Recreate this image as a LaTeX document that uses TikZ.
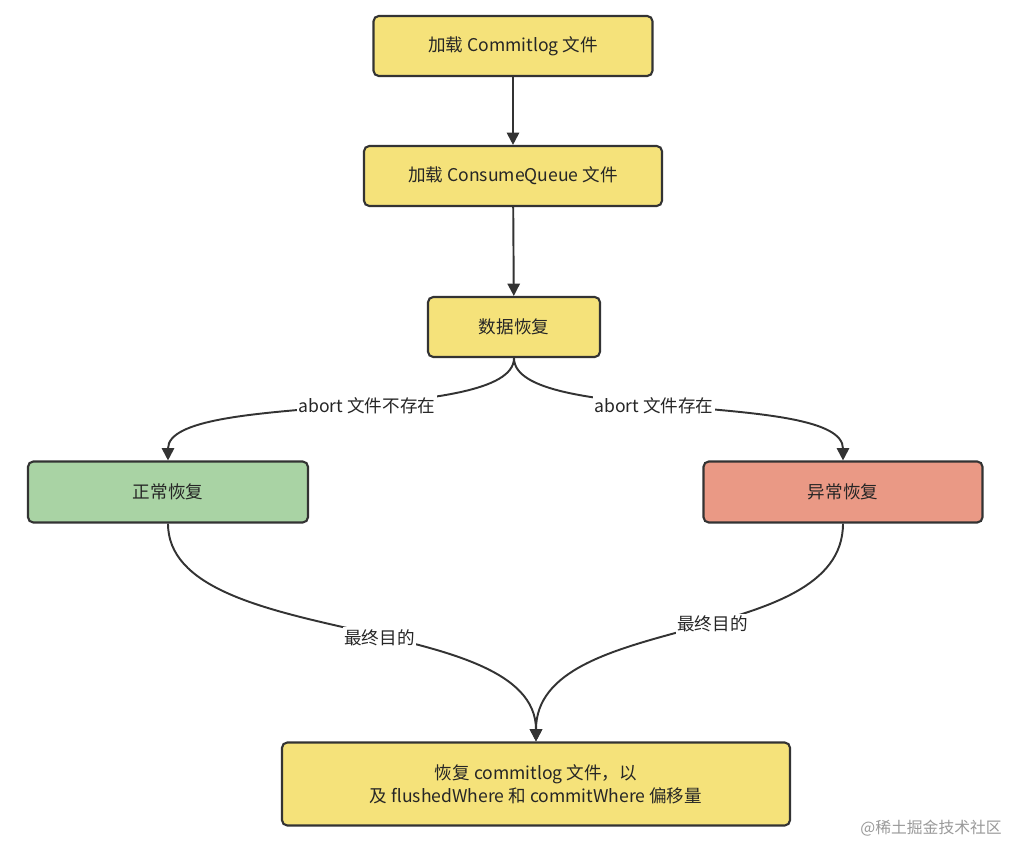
\documentclass[tikz,border=0pt]{standalone}
\usepackage{fontspec}
\setmainfont{Noto Sans CJK SC}
\usetikzlibrary{arrows.meta}
\definecolor{ybox}{HTML}{F5E27A}
\definecolor{gbox}{HTML}{A9D3A4}
\definecolor{rbox}{HTML}{EA9985}
\definecolor{edge}{HTML}{333333}
\tikzset{
  box/.style={draw=edge,line width=1.2pt,rounded corners=3pt,minimum height=60*0.02cm,align=center,font=\fontsize{10}{13}\selectfont,text=black!85},
  conn/.style={draw=edge,line width=1.1pt,-{Triangle[length=7pt,width=7pt]}},
  lab/.style={fill=white,inner sep=1pt,font=\fontsize{10}{12}\selectfont,text=black!85}
}
\begin{document}
\begin{tikzpicture}[x=0.02cm,y=-0.02cm]
\useasboundingbox (0,0) rectangle (1015,844);
\node[box,fill=ybox,minimum width=279*0.02cm] (a) at (513,46) {加载 Commitlog 文件};
\node[box,fill=ybox,minimum width=298*0.02cm] (b) at (513,176) {加载 ConsumeQueue 文件};
\node[box,fill=ybox,minimum width=172*0.02cm] (c) at (514,327) {数据恢复};
\node[box,fill=gbox,minimum width=280*0.02cm,minimum height=61*0.02cm] (d) at (168,492) {正常恢复};
\node[box,fill=rbox,minimum width=279*0.02cm,minimum height=61*0.02cm] (e) at (843,492) {异常恢复};
\node[box,fill=ybox,minimum width=508*0.02cm,minimum height=83*0.02cm] (f) at (536,784) {恢复 commitlog 文件，以\\及 flushedWhere 和 commitWhere 偏移量};
\draw[conn] (a) -- (b);
\draw[conn] (b) -- (c);
\draw[conn] (c.south) .. controls (514,425) and (168,390) .. node[lab,pos=0.45] {abort 文件不存在} (d.north);
\draw[conn] (c.south) .. controls (514,425) and (843,390) .. node[lab,pos=0.45] {abort 文件存在} (e.north);
\draw[conn] (d.south) .. controls (168,650) and (536,610) .. node[lab,pos=0.55] {最终目的} (f.north);
\draw[conn] (e.south) .. controls (843,650) and (536,610) .. node[lab,pos=0.45] {最终目的} (f.north);
\node[font=\fontsize{9}{11}\selectfont,text=black!40,anchor=east] (w) at (1008,828) {@稀土掘金技术社区};
\end{tikzpicture}
\end{document}
